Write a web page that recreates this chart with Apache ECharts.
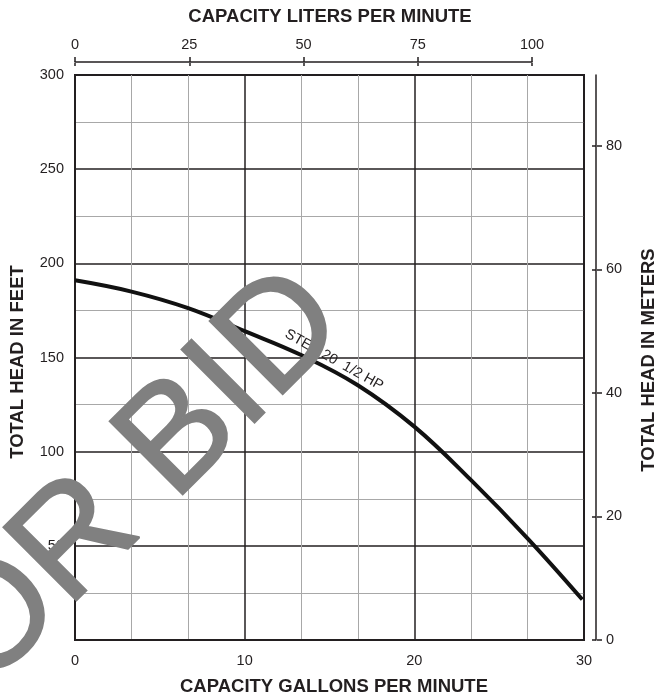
<!DOCTYPE html>
<html><head><meta charset="utf-8">
<script src="https://cdn.jsdelivr.net/npm/echarts@6/dist/echarts.min.js"></script>
<style>html,body{margin:0;padding:0;background:#fff}#c{width:657px;height:698px}</style>
</head><body><div id="c"></div>
<script>
// Pump curve: capacity (GPM) vs total head (feet)
const gpm    = [0, 3.33, 6.67, 10, 13.33, 16.67, 20, 23.33, 26.67, 29.9];
const headFt = [191, 185, 176.2, 164, 151.3, 135.3, 113.3, 85, 54, 21.5];
const meterTicks = [0, 20, 40, 60, 80];
const lpmTicks = [0, 25, 50, 75, 100];
const curveLabel = 'STEP 20  1/2 HP';
const curveLabelAt = [15.27, 148.7];
const titleTop = 'CAPACITY LITERS PER MINUTE';
const titleBottom = 'CAPACITY GALLONS PER MINUTE';
const titleLeft = 'TOTAL HEAD IN FEET';
const titleRight = 'TOTAL HEAD IN METERS';
const watermark = 'FOR BID';
const watermarkAt = [1.85, 68];

const FF = '"Liberation Sans", Arial, sans-serif';
const DARK = '#231f20';
const chart = echarts.init(document.getElementById('c'), null, {renderer: 'canvas'});
const lbl = {fontFamily: FF, fontSize: 14.5, color: DARK};
const tickStyle = {color: DARK, width: 1.5};

const option = {
  animation: false,
  backgroundColor: '#fff',
  grid: [
    {left: 75, right: 73, top: 75, bottom: 58, show: true, borderColor: DARK, borderWidth: 2, backgroundColor: 'transparent'},
    {left: 75, width: 457, top: 62, height: 1},
    {left: 596, width: 1, top: 75, bottom: 58}
  ],
  xAxis: [
    {gridIndex: 0, type: 'value', min: 0, max: 30, interval: 10, position: 'bottom',
      axisLine: {show: true, onZero: false, lineStyle: {color: DARK, width: 2}},
      axisTick: {show: false},
      axisLabel: Object.assign({margin: 13}, lbl),
      splitLine: {show: true, lineStyle: {color: DARK, width: 1.5}},
      minorTick: {show: false, splitNumber: 3},
      minorSplitLine: {show: true, lineStyle: {color: '#a8a8a8', width: 1}}},
    {gridIndex: 1, type: 'value', min: 0, max: 100, position: 'top',
      axisLine: {show: true, onZero: false, lineStyle: {color: DARK, width: 1.5}},
      axisTick: {show: true, inside: false, length: 5, customValues: lpmTicks, lineStyle: tickStyle},
      axisLabel: Object.assign({margin: 10, customValues: lpmTicks}, lbl),
      splitLine: {show: false}},
    {gridIndex: 1, type: 'value', min: 0, max: 100, position: 'bottom',
      axisLine: {show: false, onZero: false},
      axisTick: {show: true, inside: false, length: 3, customValues: lpmTicks, lineStyle: tickStyle},
      axisLabel: {show: false},
      splitLine: {show: false}},
    {gridIndex: 2, type: 'value', min: 0, max: 1, show: false}
  ],
  yAxis: [
    {gridIndex: 0, type: 'value', min: 0, max: 300, interval: 50, position: 'left',
      axisLine: {show: true, onZero: false, lineStyle: {color: DARK, width: 2}},
      axisTick: {show: false},
      axisLabel: Object.assign({margin: 11, showMinLabel: false}, lbl),
      splitLine: {show: true, lineStyle: {color: DARK, width: 1.5}},
      minorTick: {show: false, splitNumber: 2},
      minorSplitLine: {show: true, lineStyle: {color: '#a8a8a8', width: 1}}},
    {gridIndex: 1, type: 'value', min: 0, max: 1, show: false},
    {gridIndex: 2, type: 'value', min: 0, max: 91.44, position: 'right',
      axisLine: {show: false, onZero: false},
      axisTick: {show: true, inside: false, length: 5, customValues: meterTicks, lineStyle: tickStyle},
      axisLabel: Object.assign({margin: 9, customValues: meterTicks}, lbl),
      splitLine: {show: false}},
    {gridIndex: 2, type: 'value', min: 0, max: 91.44, position: 'left',
      axisLine: {show: true, onZero: false, lineStyle: {color: DARK, width: 1.5}},
      axisTick: {show: true, inside: false, length: 4, customValues: meterTicks, lineStyle: tickStyle},
      axisLabel: {show: false},
      splitLine: {show: false}}
  ],
  series: [{
    type: 'line', xAxisIndex: 0, yAxisIndex: 0,
    data: gpm.map((g, i) => [g, headFt[i]]),
    smooth: 0.4, symbol: 'none', z: 5,
    lineStyle: {color: '#111', width: 4}
  }]
};
chart.setOption(option);

const lp = chart.convertToPixel({xAxisIndex: 0, yAxisIndex: 0}, curveLabelAt);
const wm = chart.convertToPixel({xAxisIndex: 0, yAxisIndex: 0}, watermarkAt);
const bold = 'bold 18.5px ' + FF;
chart.setOption({
  graphic: [
    {type: 'text', x: 330, y: 17, z: 50, style: {text: titleTop, font: bold, fill: DARK, align: 'center', verticalAlign: 'middle'}},
    {type: 'text', x: 334, y: 687, z: 50, style: {text: titleBottom, font: bold, fill: DARK, align: 'center', verticalAlign: 'middle'}},
    {type: 'text', x: 18, y: 362, rotation: Math.PI / 2, z: 50, style: {text: titleLeft, font: bold, fill: DARK, align: 'center', verticalAlign: 'middle'}},
    {type: 'text', x: 649, y: 360, rotation: Math.PI / 2, z: 50, style: {text: titleRight, font: bold, fill: DARK, align: 'center', verticalAlign: 'middle'}},
    {type: 'text', x: lp[0], y: lp[1], rotation: -0.51, z: 60, style: {text: curveLabel, font: 'normal 14.5px ' + FF, fill: DARK, align: 'center', verticalAlign: 'middle'}},
    {type: 'text', x: wm[0], y: wm[1], rotation: Math.PI / 4, z: 100, style: {text: watermark, font: 'normal 150px ' + FF, fill: '#808080', stroke: '#808080', lineWidth: 2, align: 'center', verticalAlign: 'middle'}}
  ]
});
</script>
</body></html>
